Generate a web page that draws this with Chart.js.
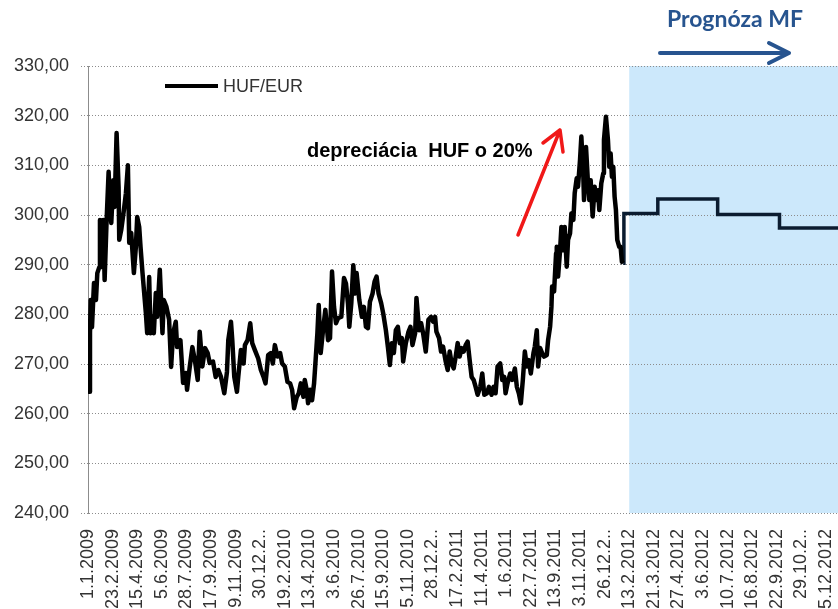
<!DOCTYPE html>
<html>
<head>
<meta charset="utf-8">
<script src="https://cdn.jsdelivr.net/npm/chart.js@4.4.1/dist/chart.umd.min.js"></script>
<style>
  body { margin: 0; background: #fff; }
  #wrap { width: 838px; height: 609px; }
</style>
</head>
<body>
<div id="wrap"><canvas id="chart" width="838" height="609"></canvas></div>
<script>
// tick labels on the date axis, one every 37 categories
const xLabels = ["1.1.2009", "23.2.2009", "15.4.2009", "5.6.2009", "28.7.2009", "17.9.2009",
  "9.11.2009", "30.12.2..", "19.2.2010", "13.4.2010", "3.6.2010", "26.7.2010", "15.9.2010",
  "5.11.2010", "28.12.2..", "17.2.2011", "11.4.2011", "1.6.2011", "22.7.2011", "13.9.2011",
  "3.11.2011", "26.12.2..", "13.2.2012", "21.3.2012", "27.4.2012", "3.6.2012", "10.7.2012",
  "16.8.2012", "22.9.2012", "29.10.2..", "5.12.2012"];
const labelStep = 37;

// HUF/EUR history (category index, rate)
const histDay = [0, 2, 3, 4, 6, 9, 12, 14, 17, 18, 22, 23, 25, 28, 31, 33, 35, 38, 40, 43, 46, 47,
  50, 54, 57, 60, 62, 65, 69, 72, 74, 77, 79, 82, 87, 89, 92, 94, 97, 99, 102, 104, 108, 112, 114,
  118, 122, 125, 128, 132, 134, 139, 143, 147, 149, 153, 157, 161, 165, 168, 172, 176, 180, 183,
  188, 192, 196, 200, 205, 209, 211, 215, 217, 220, 224, 226, 230, 234, 236, 240, 244, 247, 251,
  256, 260, 264, 267, 271, 275, 278, 281, 285, 289, 292, 296, 300, 304, 307, 310, 314, 317, 320,
  324, 326, 329, 331, 334, 337, 340, 342, 345, 347, 350, 354, 357, 361, 364, 367, 370, 373, 376,
  381, 385, 388, 391, 393, 396, 399, 402, 404, 408, 412, 415, 418, 421, 424, 428, 431, 434, 437,
  441, 444, 448, 451, 454, 457, 460, 463, 466, 469, 472, 474, 478, 482, 485, 488, 492, 494, 498,
  501, 504, 508, 512, 516, 519, 522, 524, 528, 531, 534, 538, 541, 544, 547, 550, 553, 556, 559,
  562, 565, 568, 571, 574, 577, 580, 583, 586, 590, 593, 596, 600, 603, 607, 610, 613, 616, 620,
  623, 626, 628, 631, 635, 638, 642, 645, 648, 651, 654, 657, 660, 663, 666, 670, 672, 675, 677,
  680, 683, 686, 690, 692, 695, 697, 698, 701, 704, 705, 707, 710, 712, 715, 717, 720, 722, 725,
  727, 730, 732, 735, 737, 740, 742, 745, 746, 749, 752, 754, 756, 759, 762, 764, 767, 769, 772,
  775, 776, 779, 782, 784, 786, 788, 790, 792, 794, 796, 799, 801, 803, 805];
const histRate = [266.2, 264.4, 276.2, 282.9, 277.4, 286.3, 282.9, 288.3, 289.5, 299, 289.5, 299,
  286.9, 299, 308.7, 301.6, 298.4, 307, 301.6, 316.5, 305.6, 295, 297, 301, 304.4, 310, 294.4,
  296.4, 288.3, 293.6, 299.6, 297.6, 293.6, 288.3, 280.3, 276.2, 287.5, 276.2, 279.5, 276.2,
  284.3, 279.5, 289, 276.2, 282.9, 281.5, 278.9, 269.4, 276.2, 278.5, 273.4, 274.8, 266.2, 268.2,
  264.8, 269.4, 273.4, 270.5, 266.8, 276.5, 269.5, 273.2, 272.2, 270.2, 270.5, 267.4, 268.8,
  267.4, 264.1, 268.4, 274.8, 278.5, 274.8, 267.4, 264.4, 267.4, 272.8, 270.1, 273.8, 274.8,
  278.2, 274.2, 272.8, 271.1, 268.8, 267.4, 266.1, 271.8, 272.2, 270.1, 273.8, 271.5, 272.2,
  270.1, 269.5, 266.4, 266.1, 264.8, 261.1, 263.4, 264.1, 266.1, 263.4, 266.8, 264.8, 262.1,
  264.8, 262.7, 266.1, 270.1, 276.2, 281.9, 272.2, 277.5, 280.9, 274.8, 275.2, 288.6, 281.5,
  278.2, 279.2, 279.5, 287.3, 286.2, 282.2, 277.5, 282.2, 289.9, 284.2, 288.3, 282.9, 279.5,
  281.5, 277.5, 277.2, 282.5, 284.2, 286.6, 287.6, 284.2, 282.2, 280.2, 276.8, 273.5, 269.8,
  274.2, 272.2, 276.8, 277.5, 274.2, 275.2, 270.5, 274.2, 276.5, 277.5, 273.8, 276.2, 283.3,
  276.8, 278.2, 276.2, 272.5, 278.9, 279.5, 278.5, 279.5, 276.5, 275.2, 272.5, 273.5, 270.5,
  268.8, 272.5, 270.1, 269.1, 271.5, 274.2, 271.5, 273.2, 272.5, 273.8, 274.5, 270.8, 267.4,
  266.8, 265.4, 263.8, 265.4, 268.1, 263.8, 264.1, 265.4, 263.8, 265.4, 264.1, 269.5, 270.1,
  266.8, 267.4, 264.1, 266.1, 268.1, 266.8, 269.1, 265.4, 264.1, 262.1, 266.8, 272.5, 269.5,
  270.8, 268.1, 272.2, 273.5, 276.8, 269.5, 273.2, 272.2, 271.5, 271.8, 274.8, 277.5, 281.5,
  285.6, 284.6, 292.3, 293.6, 287.6, 292.9, 297.6, 292.9, 297.6, 289.6, 295, 296.3, 300.3, 299,
  304.4, 307.4, 305.7, 311.1, 315.8, 307.7, 303, 313.7, 306.4, 303, 307, 299.7, 305.7, 303, 305,
  301, 306.4, 308.4, 315.1, 319.8, 315.1, 309.7, 312.4, 307.7, 309.7, 303.7, 301, 295, 293.6,
  293.6, 290.6, 290.3];

// MF forecast, quarterly steps
const foreDay = [806, 857, 947, 1040, 1136];
const foreRate = [300.3, 303.2, 300.1, 297.4, 297.4];
const forecastFrom = 814; // 13.2.2012

const histData = histDay.map((d, i) => ({ x: d, y: histRate[i] }));
const foreData = [histData[histData.length - 1]].concat(foreDay.map((d, i) => ({ x: d, y: foreRate[i] })));

const FONT = "'Liberation Sans', Arial, sans-serif";

// blue forecast area, behind the grid
const shadePlugin = {
  id: "shade",
  beforeDraw(chart) {
    const { ctx, chartArea, scales } = chart;
    const x0 = scales.x.getPixelForValue(forecastFrom);
    ctx.save();
    ctx.fillStyle = "#cce8fb";
    ctx.fillRect(x0, chartArea.top, chartArea.right - x0, chartArea.bottom - chartArea.top);
    ctx.restore();
  }
};

function arrow(ctx, x1, y1, x2, y2, w1, w2, color, width) {
  ctx.save();
  ctx.strokeStyle = color;
  ctx.lineWidth = width;
  ctx.lineCap = "round";
  ctx.lineJoin = "round";
  ctx.beginPath();
  ctx.moveTo(x1, y1);
  ctx.lineTo(x2, y2);
  ctx.moveTo(w1[0], w1[1]);
  ctx.lineTo(x2, y2);
  ctx.lineTo(w2[0], w2[1]);
  ctx.stroke();
  ctx.restore();
}

// legend, annotation and forecast heading
const notesPlugin = {
  id: "notes",
  afterDraw(chart) {
    const ctx = chart.ctx;
    ctx.save();
    ctx.strokeStyle = "#000";
    ctx.lineWidth = 4;
    ctx.beginPath();
    ctx.moveTo(165, 86);
    ctx.lineTo(218, 86);
    ctx.stroke();
    ctx.fillStyle = "#333";
    ctx.font = "18px " + FONT;
    ctx.textBaseline = "middle";
    ctx.fillText("HUF/EUR", 223, 87);

    ctx.fillStyle = "#000";
    ctx.font = "bold 20px " + FONT;
    ctx.fillText("depreciácia  HUF o 20%", 307, 151);

    ctx.fillStyle = "#27548f";
    ctx.font = "bold 23px Lato, 'Open Sans', sans-serif";
    ctx.textAlign = "center";
    ctx.fillText("Prognóza MF", 735, 20);
    ctx.restore();

    arrow(ctx, 518, 235, 560, 130, [543, 143], [563, 152], "#f01818", 3.5);
    arrow(ctx, 660, 53, 789, 53, [769, 43], [769, 63], "#27548f", 4);
  }
};

new Chart(document.getElementById("chart"), {
  type: "line",
  data: {
    datasets: [
      {
        label: "HUF/EUR",
        data: histData,
        borderColor: "#000",
        borderWidth: 4.5,
        borderJoinStyle: "round",
        pointRadius: 0,
        tension: 0
      },
      {
        label: "Prognóza MF",
        data: foreData,
        borderColor: "#0b1c30",
        borderWidth: 3.5,
        stepped: true,
        pointRadius: 0
      }
    ]
  },
  options: {
    responsive: false,
    animation: false,
    devicePixelRatio: 1,
    layout: { padding: { top: 66, right: 0, bottom: 0, left: 0 } },
    plugins: { legend: { display: false }, tooltip: { enabled: false } },
    scales: {
      x: {
        type: "linear",
        min: 0,
        max: 1128,
        grid: { display: false },
        border: { display: false },
        afterBuildTicks: (scale) => {
          scale.ticks = xLabels.map((l, i) => ({ value: i * labelStep }));
        },
        afterFit: (scale) => {
          scale.height = 96;
          scale.paddingLeft = 0;
          scale.paddingRight = 0;
        },
        ticks: {
          autoSkip: false,
          maxRotation: 90,
          minRotation: 90,
          padding: 8,
          color: "#333",
          font: { family: FONT, size: 18 },
          callback: (v) => xLabels[Math.round(v / labelStep)]
        }
      },
      y: {
        min: 240,
        max: 330,
        afterFit: (scale) => {
          scale.width = 88;
          scale.paddingTop = 0;
          scale.paddingBottom = 0;
        },
        grid: {
          color: "#8c8c8c",
          lineWidth: 1,
          borderDash: [1, 2],
          tickLength: 7,
          tickBorderDash: [1, 2]
        },
        border: { color: "#8c8c8c", width: 1, dash: [1, 2] },
        ticks: {
          stepSize: 10,
          padding: 12,
          color: "#333",
          font: { family: FONT, size: 18 },
          callback: (v) => v.toFixed(2).replace(".", ",")
        }
      }
    }
  },
  plugins: [shadePlugin, notesPlugin]
});
</script>
</body>
</html>
